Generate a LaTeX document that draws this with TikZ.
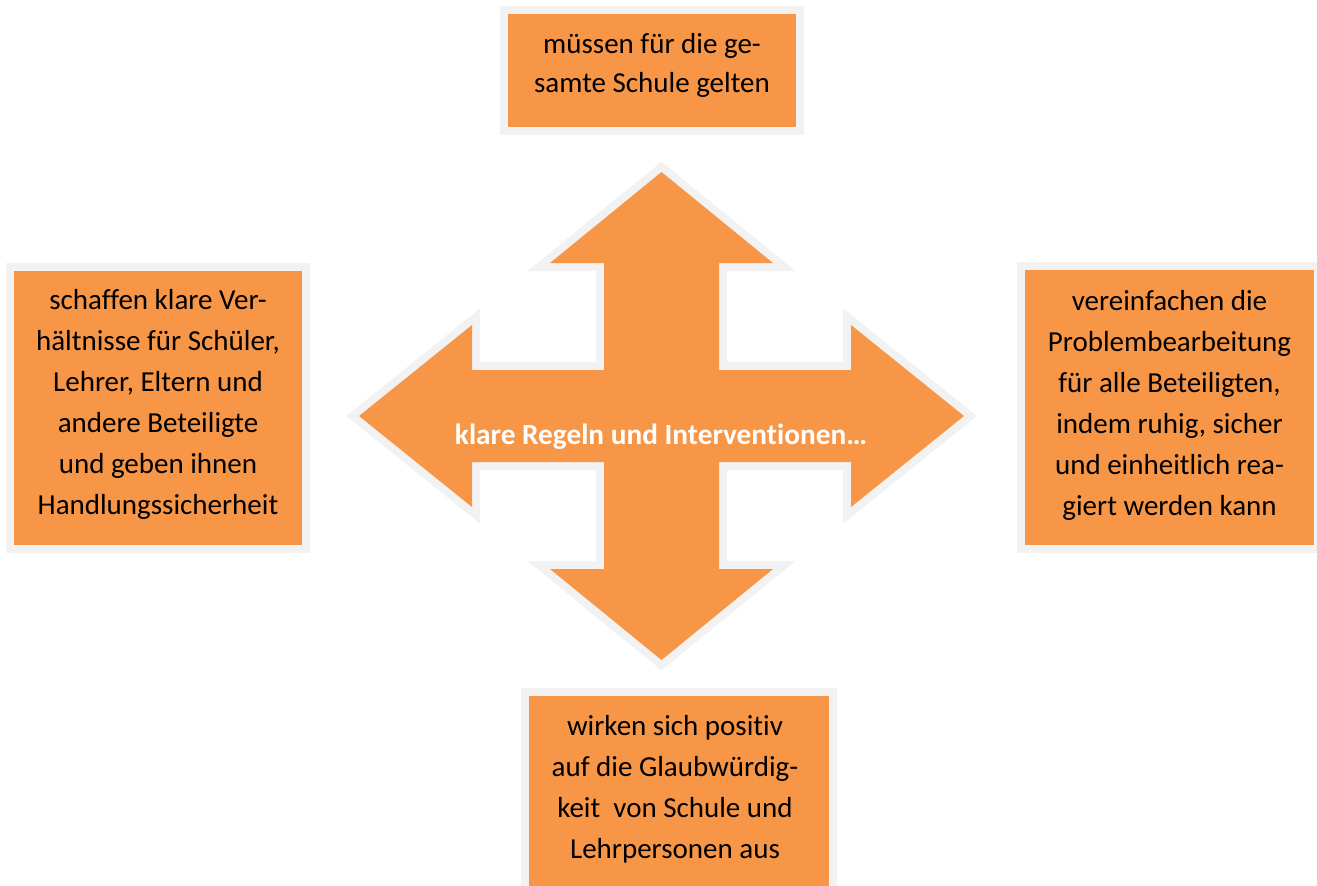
\documentclass[tikz,border=0pt]{standalone}
\usepackage{fontspec}
\setmainfont{Carlito}[Ligatures=NoCommon]
\definecolor{boxorange}{HTML}{F79646}
\definecolor{rimgray}{HTML}{F2F2F2}
\begin{document}
\begin{tikzpicture}[x=1pt,y=-1pt,
  box/.style={draw=rimgray,line width=8pt,fill=boxorange,inner sep=0pt,outer sep=0pt},
  txt/.style={align=center,inner sep=0pt,font=\fontsize{29}{41}\selectfont,text=black},
  ctxt/.style={inner sep=0pt,font=\fontsize{29.3}{34}\selectfont\bfseries,text=white}]
\useasboundingbox (0,0) rectangle (1317,886);
\clip (0,0) rectangle (1317,886);
% boxes
\node[box,minimum width=296pt,minimum height=121pt] (top) at (652,70.5) {};
\node[box,minimum width=296pt,minimum height=282pt] (left) at (158,408) {};
\node[box,minimum width=297pt,minimum height=283pt] (right) at (1169.5,407.5) {};
\node[box,minimum width=308pt,minimum height=308pt] (bottom) at (679,846) {};
% quad arrow
\def\cx{661.5}\def\cy{416}
\def\arrowpath{(\cx,\cy-244) -- (\cx+111.5,\cy-153) -- (\cx+57.5,\cy-153) -- (\cx+57.5,\cy-46) -- (\cx+189.5,\cy-46) -- (\cx+189.5,\cy-91) -- (\cx+302.5,\cy) -- (\cx+189.5,\cy+91) -- (\cx+189.5,\cy+46) -- (\cx+57.5,\cy+46) -- (\cx+57.5,\cy+153) -- (\cx+111.5,\cy+153) -- (\cx,\cy+244) -- (\cx-111.5,\cy+153) -- (\cx-57.5,\cy+153) -- (\cx-57.5,\cy+46) -- (\cx-189.5,\cy+46) -- (\cx-189.5,\cy+91) -- (\cx-302.5,\cy) -- (\cx-189.5,\cy-91) -- (\cx-189.5,\cy-46) -- (\cx-57.5,\cy-46) -- (\cx-57.5,\cy-153) -- (\cx-111.5,\cy-153) -- cycle}
\draw[rimgray,line width=16pt,line join=miter] \arrowpath;
\fill[boxorange] \arrowpath;
% texts
\node[txt,font=\fontsize{29}{39}\selectfont] (toptext) at (652,65.5) {müssen für die ge-\\samte Schule gelten};
\node[txt] (lefttext) at (158,404) {schaffen klare Ver-\\hältnisse für Schüler,\\Lehrer, Eltern und\\andere Beteiligte\\und geben ihnen\\Handlungssicherheit};
\node[txt] (righttext) at (1169.5,405) {vereinfachen die\\Problembearbeitung\\für alle Beteiligten,\\indem ruhig, sicher\\und einheitlich rea-\\giert werden kann};
\node[txt] (bottomtext) at (675,789.5) {wirken sich positiv\\auf die Glaubwürdig-\\keit\ \ von Schule und\\Lehrpersonen aus};
\node[ctxt,anchor=base] (center) at (661,444) {klare Regeln und Interventionen…};
\end{tikzpicture}
\end{document}
